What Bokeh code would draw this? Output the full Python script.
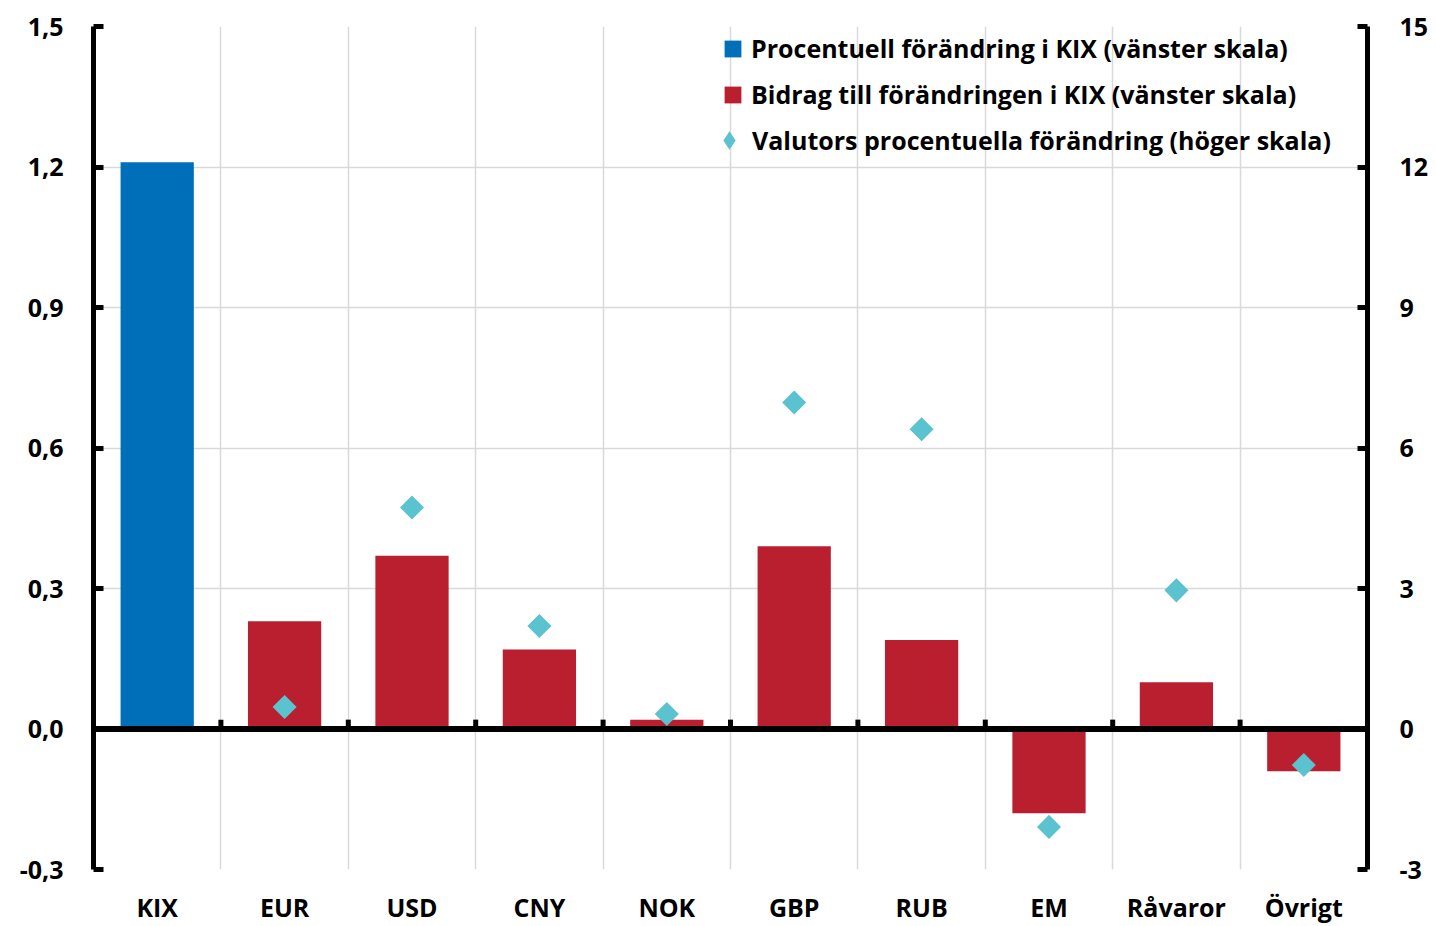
import numpy as np
from bokeh.plotting import figure
from bokeh.models import (Range1d, LinearAxis, FixedTicker, CustomJSTickFormatter,
                          ColumnDataSource, Legend, LegendItem, Span)
from bokeh.embed import file_html
from bokeh.resources import INLINE

categories = ["KIX", "EUR", "USD", "CNY", "NOK", "GBP", "RUB", "EM", "Råvaror", "Övrigt"]
kix_change = [1.21]
contrib = [0.23, 0.37, 0.17, 0.02, 0.39, 0.19, -0.18, 0.10, -0.09]
currency_change = [0.47, 4.73, 2.20, 0.32, 6.97, 6.40, -2.09, 2.96, -0.77]
left_ticks = [-0.3, 0.0, 0.3, 0.6, 0.9, 1.2, 1.5]
right_ticks = [-3, 0, 3, 6, 9, 12, 15]

BLUE = "#006FB9"
RED = "#B91F2E"
CYAN = "#5BC2D0"
FONT = "Open Sans"
FS = "25px"

n = len(categories)
xpos = np.arange(n) + 0.5

p = figure(width=1436, height=926, output_backend="svg", toolbar_location=None,
           x_range=Range1d(0, n), y_range=Range1d(left_ticks[0], left_ticks[-1]),
           min_border_left=93, min_border_right=69, min_border_top=26, min_border_bottom=56)
p.outline_line_color = None
p.background_fill_color = "white"
p.extra_y_ranges = {"right": Range1d(right_ticks[0], right_ticks[-1])}

# grids
p.xgrid.ticker = FixedTicker(ticks=list(range(1, n)))
p.xgrid.grid_line_color = "#D9D9D9"
p.xgrid.grid_line_width = 1.5
p.ygrid.ticker = FixedTicker(ticks=left_ticks)
p.ygrid.grid_line_color = "#D9D9D9"
p.ygrid.grid_line_width = 1.5

# bottom axis with category labels
xa = p.xaxis[0]
xa.ticker = FixedTicker(ticks=list(xpos))
xa.major_label_overrides = {float(x): c for x, c in zip(xpos, categories)}
xa.axis_line_color = None
xa.major_tick_line_color = None
xa.minor_tick_line_color = None
xa.major_label_text_font = FONT
xa.major_label_text_font_style = "bold"
xa.major_label_text_font_size = FS
xa.major_label_text_color = "black"
xa.major_label_standoff = 14

ya = p.yaxis[0]
ya.ticker = FixedTicker(ticks=left_ticks)
ya.formatter = CustomJSTickFormatter(code="return tick.toFixed(1).replace('.', ',');")

yr = LinearAxis(y_range_name="right", ticker=FixedTicker(ticks=right_ticks),
                formatter=CustomJSTickFormatter(code="return tick.toFixed(0);"))
p.add_layout(yr, "right")

for ax in [ya, yr]:
    ax.axis_line_width = 5
    ax.axis_line_color = "black"
    ax.major_tick_in = 10
    ax.major_tick_out = 0
    ax.major_tick_line_width = 5
    ax.major_tick_line_color = "black"
    ax.minor_tick_line_color = None
    ax.major_label_text_font = FONT
    ax.major_label_text_font_style = "bold"
    ax.major_label_text_font_size = FS
    ax.major_label_text_color = "black"
ya.major_label_standoff = 30
yr.major_label_standoff = 32

# bars
src_kix = ColumnDataSource(dict(x=xpos[:1], top=kix_change))
src_con = ColumnDataSource(dict(x=xpos[1:], top=contrib))
src_cur = ColumnDataSource(dict(x=xpos[1:], y=currency_change))

r1 = p.vbar(x="x", top="top", bottom=0, width=0.575, source=src_kix,
            fill_color=BLUE, line_color=None)
r2 = p.vbar(x="x", top="top", bottom=0, width=0.575, source=src_con,
            fill_color=RED, line_color=None)

# zero line and its ticks
p.add_layout(Span(location=0, dimension="width", line_color="black", line_width=6))
bounds = np.arange(1, n)
p.segment(x0=bounds, x1=bounds, y0=0, y1=0.02, line_color="black", line_width=5)

r3 = p.scatter(x="x", y="y", source=src_cur, y_range_name="right", marker="square",
               angle=np.pi / 4, size=17, fill_color=CYAN, line_color=None)
# legend-only proxy (legend markers are drawn unrotated); size 0 so nothing shows in the plot
r3_leg = p.scatter(x="x", y="y", source=src_cur, y_range_name="right", marker="diamond",
                   size=0, fill_color=CYAN, line_color=None)

def style(leg):
    leg.background_fill_alpha = 0
    leg.border_line_color = None
    leg.label_text_font = FONT
    leg.label_text_font_style = "bold"
    leg.label_text_font_size = FS
    leg.label_text_color = "black"
    leg.padding = 0
    leg.margin = 0

legA = Legend(items=[
    LegendItem(label="Procentuell förändring i KIX (vänster skala)", renderers=[r1]),
    LegendItem(label="Bidrag till förändringen i KIX (vänster skala)", renderers=[r2]),
], location=(629, 757))
style(legA)
legA.glyph_width = 21
legA.glyph_height = 21
legA.label_height = 36
legA.label_standoff = 8
legA.spacing = 10

legB = Legend(items=[
    LegendItem(label="Valutors procentuella förändring (höger skala)", renderers=[r3_leg]),
], location=(613, 703))
style(legB)
legB.glyph_width = 46
legB.glyph_height = 52
legB.label_height = 36
legB.label_standoff = 0

p.add_layout(legA)
p.add_layout(legB)

open("out.html", "w").write(file_html(p, INLINE))
